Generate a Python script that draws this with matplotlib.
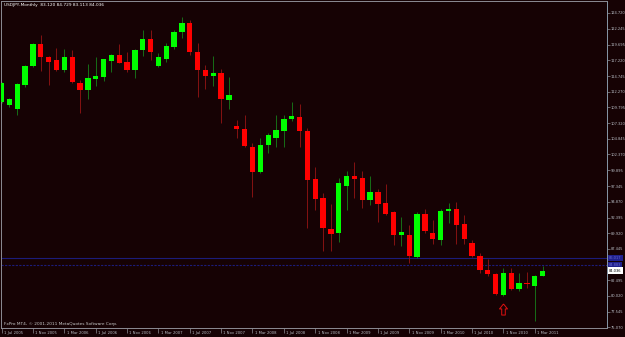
"""
USDJPY monthly candles, MT4 style (dark chart, right price scale, arrow mark on Nov 2010).
"""

import matplotlib
matplotlib.use("Agg")
import matplotlib.pyplot as plt
import matplotlib.transforms as mtransforms
from matplotlib.path import Path
import numpy as np

# monthly bars Jul 2005 .. Apr 2011
OPEN = [110.7, 110.2, 109.6, 113.4, 116.3, 119.8, 117.8, 117.25, 115.7, 117.7,
        113.66, 112.5, 114.3, 114.6, 117.2, 118.1, 116.9, 115.7, 118.8, 120.6,
        116.3, 117.4, 119.4, 121.7, 123.1, 118.5, 115.7, 114.8, 115.3, 111.0,
        106.9, 106.4, 103.55, 99.6, 103.8, 105.0, 106.1, 107.9, 108.35, 106.1,
        98.5, 95.45, 90.6, 89.95, 97.4, 98.95, 98.6, 95.1, 96.4, 94.65,
        93.2, 89.6, 89.65, 86.2, 93.0, 89.95, 88.8, 93.4, 93.8, 91.4,
        88.45, 86.35, 84.1, 83.5, 80.2, 83.6, 81.1, 82.0, 81.65, 83.12]
HIGH = [113.8, 111.3, 113.6, 116.5, 120.0, 121.2, 118.0, 119.2, 119.1, 118.8,
        114.1, 116.7, 117.8, 117.5, 118.2, 119.8, 118.5, 119.0, 122.0, 122.0,
        118.45, 119.9, 122.0, 124.1, 123.6, 119.9, 116.5, 117.9, 115.8, 114.6,
        107.8, 108.6, 104.1, 104.9, 105.8, 108.6, 108.6, 110.7, 110.3, 106.6,
        100.4, 96.3, 94.6, 98.6, 99.7, 101.2, 99.7, 98.9, 96.9, 97.7,
        93.5, 92.45, 91.25, 93.2, 93.7, 92.0, 93.8, 94.75, 94.9, 92.8,
        88.9, 86.85, 85.9, 83.6, 84.4, 84.5, 83.7, 83.85, 83.3, 84.729]
LOW = [110.5, 109.8, 108.6, 113.0, 116.2, 115.6, 113.3, 115.5, 115.45, 113.6,
       108.9, 111.2, 113.2, 113.9, 115.45, 116.8, 115.4, 114.4, 117.9, 117.3,
       116.2, 117.0, 119.0, 120.7, 118.1, 111.5, 112.7, 113.2, 107.3, 109.5,
       104.9, 103.6, 95.7, 99.4, 102.55, 103.6, 103.6, 107.6, 103.5, 90.7,
       93.6, 87.1, 87.1, 88.6, 93.6, 95.45, 93.85, 94.4, 91.75, 92.8,
       88.1, 87.9, 85.2, 86.0, 89.9, 88.2, 88.1, 91.5, 88.2, 88.2,
       86.2, 83.6, 83.1, 80.2, 80.0, 80.9, 80.85, 81.2, 76.1, 83.113]
CLOSE = [113.6, 111.1, 113.5, 116.3, 119.8, 117.8, 117.0, 115.7, 117.7, 113.8,
         112.5, 114.5, 114.7, 117.4, 118.1, 116.8, 115.7, 118.9, 120.6, 118.5,
         117.7, 119.5, 121.7, 123.1, 118.5, 115.7, 114.7, 115.3, 111.1, 111.7,
         106.4, 103.7, 99.65, 103.9, 105.45, 106.3, 107.95, 108.5, 106.0, 98.4,
         95.3, 90.7, 89.8, 97.8, 98.9, 98.5, 95.1, 96.4, 94.55, 92.95,
         89.65, 90.1, 86.3, 93.0, 90.2, 89.0, 93.5, 93.8, 91.2, 89.0,
         86.4, 84.15, 83.45, 80.35, 83.6, 81.1, 82.1, 81.85, 83.1, 84.036]

TIME_LABELS = ["1 Jul 2005", "1 Nov 2005", "1 Mar 2006", "1 Jul 2006", "1 Nov 2006",
               "1 Mar 2007", "1 Jul 2007", "1 Nov 2007", "1 Mar 2008", "1 Jul 2008",
               "1 Nov 2008", "1 Mar 2009", "1 Jul 2009", "1 Nov 2009", "1 Mar 2010",
               "1 Jul 2010", "1 Nov 2010", "1 Mar 2011"]
TIME_STEP = 4   # one label every 4 bars

PRICE_TICKS = [124.720, 122.245, 119.695, 117.220, 114.745, 112.270, 109.795,
               107.320, 104.845, 102.370, 99.895, 97.345, 94.870, 92.395,
               89.920, 87.445, 82.495, 80.020, 77.545, 75.070]
HLINES = [86.02, 84.88]
HLINE_LABELS = ["86.017", "84.883"]
LAST_PRICE = 84.036
HEADER = "USDJPY,Monthly  83.120 84.729 83.113 84.036"
COPYRIGHT = "FxPro MT4, \u00a9 2001-2011 MetaQuotes Software Corp."
ARROW_BAR = 64
ARROW_PRICE = 78.0

BG = "#160204"
FRAME = "#8c8c94"
TXT = "#b8bcc4"


def main():
    o, h, l, c = map(np.asarray, (OPEN, HIGH, LOW, CLOSE))
    x = np.arange(len(o))
    up = c >= o

    fig = plt.figure(figsize=(6.25, 3.37), dpi=100, facecolor=BG)
    ax = fig.add_axes([1.5 / 625, 9.3 / 337, 605 / 625, 326.5 / 337])
    ax.set_facecolor(BG)
    ax.set_xlim(-0.013, 77.15)
    ax.set_ylim(75.0, 126.58)

    # horizontal lines (behind candles)
    ax.axhline(HLINES[0], color="#1c1c7a", lw=0.8, zorder=1)
    ax.axhline(HLINES[1], color="#1c1c7a", lw=0.8, ls=(0, (2, 1.2)), zorder=1)

    # wicks + bodies
    ax.vlines(x[up], l[up], h[up], color="#17801a", lw=0.6, zorder=2)
    ax.vlines(x[~up], l[~up], h[~up], color="#961414", lw=0.6, zorder=2)
    body = np.maximum(np.abs(c - o), 0.14)
    ax.bar(x[up], body[up], bottom=np.minimum(o, c)[up], width=0.68,
           color="#00ff00", lw=0, zorder=3)
    ax.bar(x[~up], body[~up], bottom=np.minimum(o, c)[~up], width=0.68,
           color="#ff0000", lw=0, zorder=3)

    # arrow mark (outlined up arrow)
    arrow = Path([(0, 0.5), (0.36, 0.05), (0.16, 0.05), (0.16, -0.5),
                  (-0.16, -0.5), (-0.16, 0.05), (-0.36, 0.05), (0, 0.5)])
    ax.plot([ARROW_BAR], [ARROW_PRICE], marker=arrow, ms=8, mfc="none",
            mec="#e01010", mew=0.7, ls="none", zorder=4)

    # frame
    for s in ax.spines.values():
        s.set_color(FRAME)
        s.set_linewidth(0.7)
    ax.spines["right"].set_color("#8898a8")

    # price scale on the right
    ax.yaxis.tick_right()
    ax.set_yticks(PRICE_TICKS)
    ax.set_yticklabels([f"{p:.3f}" for p in PRICE_TICKS])
    ax.tick_params(axis="y", colors=FRAME, labelcolor=TXT, labelsize=2.6,
                   length=2, width=0.5, pad=0.8)

    # time scale
    ticks = np.arange(len(TIME_LABELS)) * TIME_STEP
    ax.set_xticks(ticks)
    ax.set_xticklabels([])
    ax.tick_params(axis="x", colors=FRAME, length=3.5, width=0.5)
    for t, lab in zip(ticks, TIME_LABELS):
        ax.text(t + 0.3, -0.0172, lab, transform=ax.get_xaxis_transform(),
                fontsize=2.7, color=TXT, va="center", ha="left", clip_on=False)

    # price boxes on the scale
    tr = mtransforms.blended_transform_factory(ax.transAxes, ax.transData)
    for y, lab in zip(HLINES, HLINE_LABELS):
        ax.text(1.004, y, lab, transform=tr, fontsize=2.6, color="#6a6ad0",
                va="center", ha="left", clip_on=False,
                bbox=dict(boxstyle="square,pad=0.3", fc="#20208c", ec="none"))
    ax.text(1.004, LAST_PRICE, f"{LAST_PRICE:.3f}", transform=tr, fontsize=2.6,
            color="black", va="center", ha="left", clip_on=False,
            bbox=dict(boxstyle="square,pad=0.3", fc="white", ec="none"))

    fig.text(3.5 / 625, 1 - 5 / 337, HEADER, fontsize=3.1, color="white", va="center")
    fig.text(3.5 / 625, 1 - 324.3 / 337, COPYRIGHT, fontsize=3.1, color="#c8c8c8",
             va="center")

    fig.savefig("out.png", dpi=100, facecolor=BG)


if __name__ == "__main__":
    main()
